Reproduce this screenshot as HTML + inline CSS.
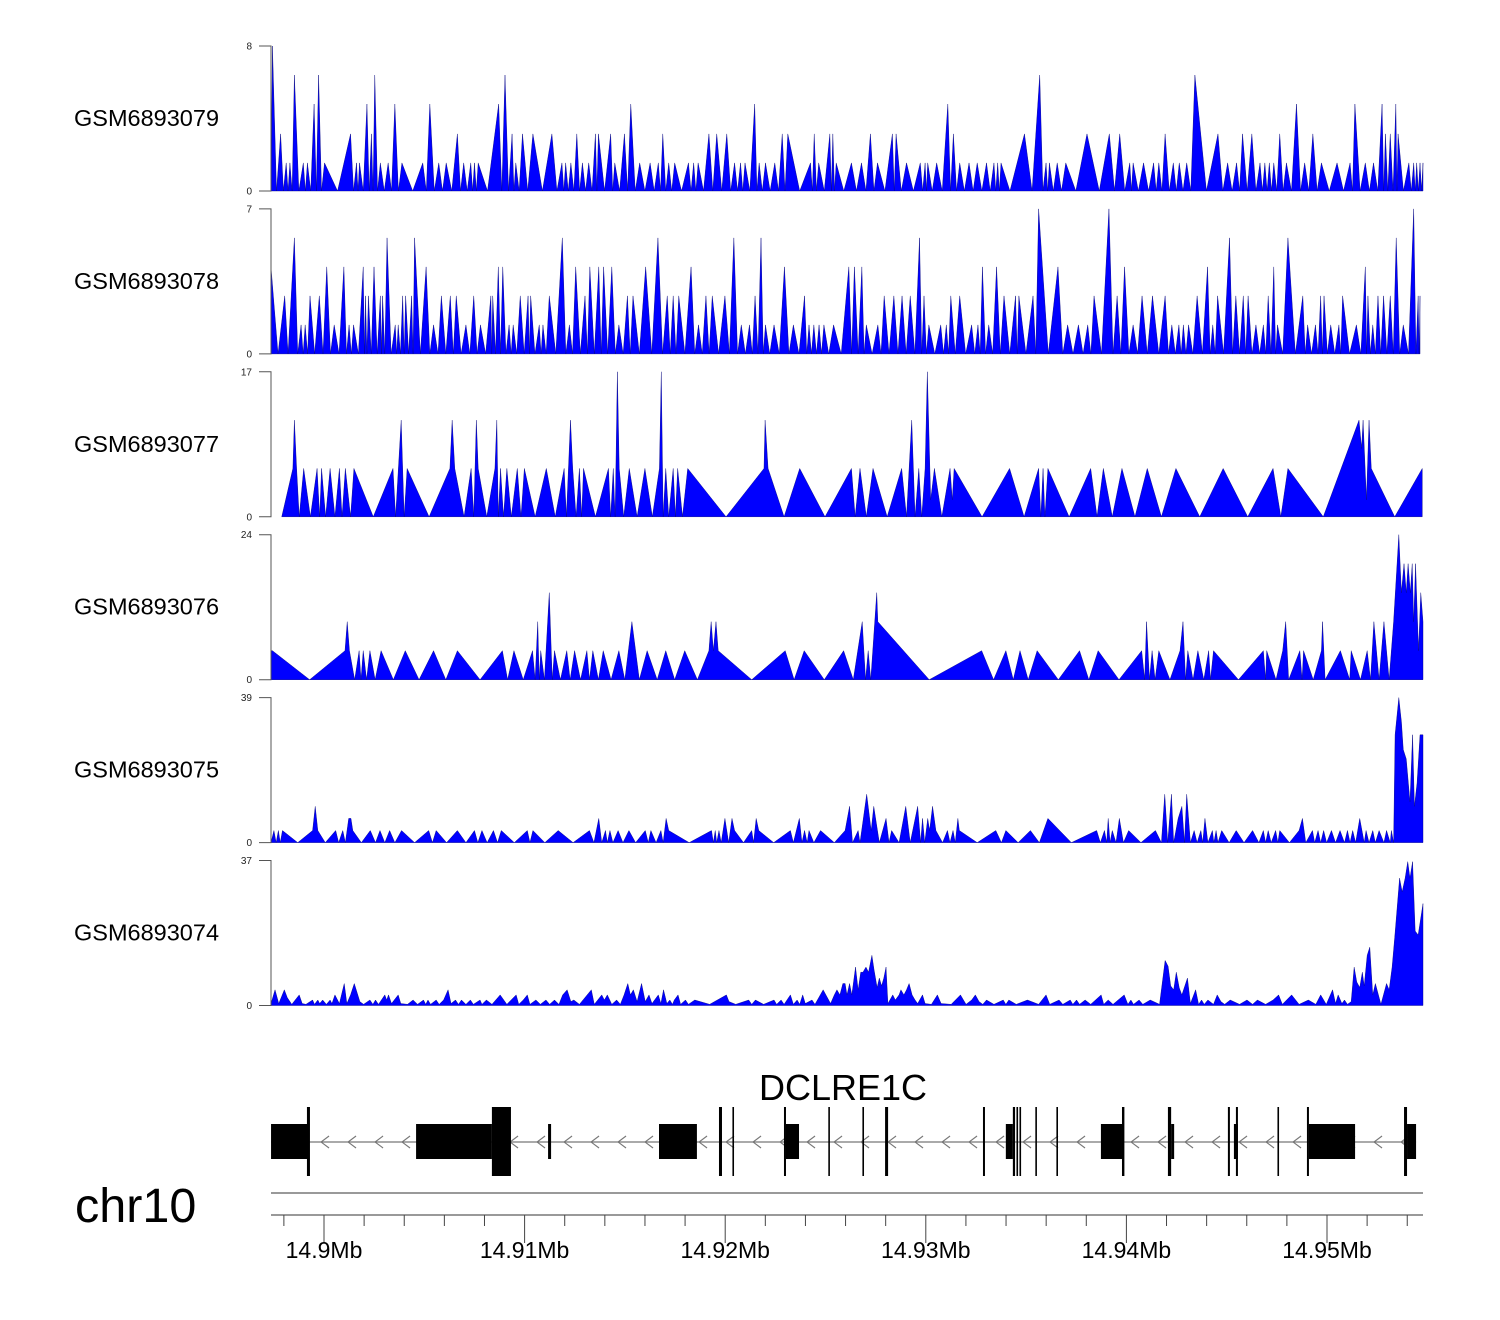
<!DOCTYPE html>
<html><head><meta charset="utf-8"><title>DCLRE1C coverage tracks</title>
<style>
html,body{margin:0;padding:0;background:#fff;}
svg{display:block;font-family:"Liberation Sans",Arial,sans-serif;}
</style></head>
<body>
<svg id="chart" xmlns="http://www.w3.org/2000/svg" width="1500" height="1320" viewBox="0 0 1500 1320"></svg>
<script>
// ---- data (positions are genomic bins: bp = binOrigin + bin*binSize) ----
const binOrigin = 14897058;
const binSize = 18.55;
const trackNames = ["GSM6893079","GSM6893078","GSM6893077","GSM6893076","GSM6893075","GSM6893074"];
const trackMax = [8,7,17,24,39,37];
const trackPeakMode = [true,true,false,false,false,false];

const t1 = [[16,0],[20,8],[42,3.15],[57,1.55],[67,1.55],[79,6.4],[103,1.55],[114,1.55],[132,4.8],[144,6.4],[160,1.55],[195,0],[230,3.15],[246,1.55],[254,1.55],[274,4.8],[286,3.15],[295,6.4],[310,1.55],[331,1.55],[349,4.8],[368,1.55],[397,0],[424,1.55],[443,4.8],[467,1.55],[487,1.55],[517,3.15],[534,1.55],[553,1.55],[563,1.55],[573,1.55],[598,0],[628,4.8],[645,6.4],[664,3.15],[674,1.55],[692,3.15],[720,3.15],[771,3.15],[798,1.55],[808,1.55],[822,1.55],[838,3.15],[853,1.55],[870,1.55],[888,3.15],[896,3.15],[929,3.15],[940,1.55],[966,3.15],[983,4.8],[1007,1.55],[1035,1.55],[1057,1.55],[1069,3.15],[1085,1.55],[1101,1.55],[1138,1.55],[1152,1.55],[1164,1.55],[1193,3.15],[1214,3.15],[1241,3.15],[1262,1.55],[1278,1.55],[1290,1.55],[1316,4.8],[1328,1.55],[1345,1.55],[1370,1.55],[1390,3.15],[1405,3.15],[1437,0],[1466,1.55],[1476,3.15],[1488,1.55],[1518,3.15],[1526,3.15],[1535,1.55],[1576,1.55],[1603,1.55],[1627,3.15],[1646,1.55],[1686,3.15],[1696,3.15],[1724,1.55],[1761,1.55],[1774,1.55],[1781,1.55],[1805,1.55],[1835,4.8],[1850,3.15],[1867,1.55],[1892,1.55],[1914,1.55],[1939,1.55],[1959,1.55],[1969,1.55],[1978,1.55],[2002,0],[2041,3.15],[2082,6.4],[2099,1.55],[2108,1.55],[2129,1.55],[2152,1.55],[2179,0],[2209,3.15],[2242,0],[2269,3.15],[2297,3.15],[2324,1.55],[2333,1.55],[2361,1.55],[2388,1.55],[2402,1.55],[2419,3.15],[2441,1.55],[2457,1.55],[2477,1.55],[2499,6.4],[2561,3.15],[2587,1.55],[2611,1.55],[2627,3.15],[2652,3.15],[2674,1.55],[2687,1.55],[2699,1.55],[2711,1.55],[2727,3.15],[2745,1.55],[2772,4.8],[2794,1.55],[2816,3.15],[2839,1.55],[2881,1.55],[2916,1.55],[2929,4.8],[2957,1.55],[2979,1.55],[3002,4.8],[3011,3.15],[3024,3.15],[3039,4.8],[3045,3.15],[3074,1.55],[3087,1.55],[3095,1.55],[3104,1.55],[3112,1.55]];

const t2 = [[16,4.2],[35,0],[53,2.8],[62,0],[79,5.6],[97,1.4],[108,1.4],[121,2.8],[146,2.8],[166,4.2],[186,1.4],[212,4.2],[226,1.4],[238,1.4],[264,4.2],[270,2.8],[278,2.8],[293,4.2],[310,2.8],[316,2.8],[328,5.6],[350,1.4],[358,1.4],[370,2.8],[378,2.8],[394,2.8],[402,5.6],[433,4.2],[453,1.4],[465,0],[474,2.8],[498,2.8],[514,2.8],[540,1.4],[561,2.8],[579,1.4],[607,2.8],[612,2.8],[627,4.2],[639,4.2],[656,1.4],[667,1.4],[686,2.8],[707,2.8],[714,2.8],[737,1.4],[747,1.4],[764,2.8],[799,5.6],[818,1.4],[835,4.2],[860,2.8],[873,4.2],[897,4.2],[910,4.2],[932,4.2],[951,1.4],[974,2.8],[989,2.8],[1023,4.2],[1056,5.6],[1081,2.8],[1097,2.8],[1112,2.8],[1145,4.2],[1165,1.4],[1185,2.8],[1202,2.8],[1236,2.8],[1260,5.6],[1280,1.4],[1302,1.4],[1317,2.8],[1333,5.6],[1345,1.4],[1368,1.4],[1396,4.2],[1420,1.4],[1450,2.8],[1462,1.4],[1475,1.4],[1489,1.4],[1502,1.4],[1528,1.4],[1569,4.2],[1584,4.2],[1604,4.2],[1616,1.4],[1647,1.4],[1664,2.8],[1690,2.8],[1712,2.8],[1734,2.8],[1759,5.6],[1771,2.8],[1784,1.4],[1816,1.4],[1831,1.4],[1843,2.8],[1867,2.8],[1899,1.4],[1916,1.4],[1928,4.2],[1945,1.4],[1966,4.2],[1986,2.8],[2017,2.8],[2026,2.8],[2064,2.8],[2079,7],[2131,4.2],[2157,1.4],[2186,1.4],[2211,1.4],[2228,2.8],[2268,7],[2290,2.8],[2310,4.2],[2333,1.4],[2357,2.8],[2385,2.8],[2419,2.8],[2437,1.4],[2456,1.4],[2468,1.4],[2482,1.4],[2505,2.8],[2533,4.2],[2547,1.4],[2560,2.8],[2592,5.6],[2609,2.8],[2629,2.8],[2642,2.8],[2663,1.4],[2683,1.4],[2696,2.8],[2711,4.2],[2721,1.4],[2749,5.6],[2789,2.8],[2802,1.4],[2823,1.4],[2837,2.8],[2846,2.8],[2864,1.4],[2886,1.4],[2896,2.8],[2933,1.4],[2957,4.2],[2964,2.8],[2977,1.4],[2991,2.8],[3006,2.8],[3024,2.8],[3040,5.6],[3059,1.4],[3087,7],[3099,2.8],[3104,2.8]];

const t3 = [[45,0],[75,5.67],[79,11.33],[85,5.67],[92,0],[104,5.67],[122,0],[140,5.67],[147,0],[152,5.67],[163,0],[175,5.67],[188,0],[200,5.67],[207,0],[216,5.67],[230,0],[239,5.67],[291,0],[344,5.67],[351,0],[366,11.33],[374,0],[382,5.67],[441,0],[497,5.67],[503,11.33],[510,5.67],[535,0],[554,5.67],[561,0],[568,11.33],[573,5.67],[596,0],[618,5.67],[623,11.33],[627,0],[633,5.67],[641,0],[650,5.67],[662,0],[678,5.67],[688,0],[697,5.67],[726,0],[756,5.67],[780,0],[804,5.67],[810,0],[821,11.33],[827,5.67],[836,0],[845,5.67],[851,0],[856,5.67],[888,0],[923,5.67],[929,0],[936,5.67],[941,0],[947,17],[952,5.67],[964,0],[979,5.67],[1000,0],[1021,5.67],[1041,0],[1060,5.67],[1065,17],[1070,0],[1077,5.67],[1085,0],[1097,5.67],[1103,0],[1109,5.67],[1122,0],[1136,5.67],[1239,0],[1341,5.67],[1344,11.33],[1352,5.67],[1395,0],[1437,5.67],[1505,0],[1576,5.67],[1586,0],[1599,5.67],[1616,0],[1634,5.67],[1672,0],[1711,5.67],[1724,0],[1738,11.33],[1747,0],[1757,5.67],[1765,0],[1774,5.67],[1780,17],[1789,2],[1799,5.67],[1819,0],[1841,5.67],[1847,2],[1852,5.67],[1927,0],[2001,5.67],[2040,0],[2079,5.67],[2085,0],[2091,5.67],[2096,0],[2104,5.67],[2161,0],[2219,5.67],[2236,0],[2253,5.67],[2277,0],[2303,5.67],[2338,0],[2371,5.67],[2409,0],[2448,5.67],[2512,0],[2575,5.67],[2641,0],[2709,5.67],[2730,0],[2749,5.67],[2844,0],[2940,11.33],[2947,8],[2951,11.33],[2960,2],[2967,11.33],[2973,5.67],[3036,0],[3110,5.67]];

const t4 = [[16,4.8],[20,4.8],[120,0],[215,4.8],[221,9.6],[227,4.8],[241,0],[253,4.8],[258,0],[264,4.8],[273,0],[282,4.8],[296,0],[312,4.8],[345,0],[377,4.8],[414,0],[453,4.8],[486,0],[517,4.8],[578,0],[638,4.8],[652,0],[669,4.8],[694,0],[719,4.8],[726,0],[733,9.6],[737,0],[741,4.8],[751,0],[764,14.4],[772,0],[778,4.8],[794,0],[811,4.8],[820,0],[832,4.8],[848,0],[865,4.8],[872,0],[881,4.8],[896,0],[909,4.8],[930,0],[951,4.8],[967,0],[986,9.6],[1006,0],[1027,4.8],[1054,0],[1077,4.8],[1101,0],[1128,4.8],[1162,0],[1193,4.8],[1199,9.6],[1205,4.8],[1212,9.6],[1218,4.8],[1308,0],[1398,4.8],[1422,0],[1449,4.8],[1503,0],[1555,4.8],[1581,0],[1605,9.6],[1614,0],[1621,4.8],[1628,0],[1644,14.4],[1647,9.6],[1785,0],[1926,4.8],[1958,0],[1991,4.8],[2011,0],[2029,4.8],[2051,0],[2075,4.8],[2132,0],[2189,4.8],[2214,0],[2239,4.8],[2295,0],[2356,4.8],[2364,0],[2369,9.6],[2377,0],[2384,4.8],[2392,0],[2402,4.8],[2432,0],[2459,4.8],[2467,9.6],[2474,0],[2480,4.8],[2494,0],[2507,4.8],[2523,0],[2536,4.8],[2541,0],[2549,4.8],[2616,0],[2683,4.8],[2689,0],[2692,4.8],[2717,0],[2735,4.8],[2743,9.6],[2751,0],[2781,4.8],[2787,0],[2791,4.8],[2817,0],[2839,4.8],[2842,9.6],[2849,0],[2890,4.8],[2915,0],[2919,4.8],[2944,0],[2962,4.8],[2971,0],[2980,9.6],[2994,0],[3007,9.6],[3021,0],[3033,9.6],[3047,24],[3054,14.4],[3061,19.2],[3067,14.4],[3072,19.2],[3078,14.4],[3083,19.2],[3087,9.6],[3092,19.2],[3100,4.8],[3106,14.4],[3112,9.6]];

const t5 = [[16,0],[24,3.25],[30,0],[36,3.25],[41,0],[47,3.25],[88,0],[128,3.25],[135,9.75],[142,3.25],[162,0],[190,3.25],[198,0],[209,3.25],[216,0],[225,6.5],[231,6.5],[236,3.25],[259,0],[283,3.25],[297,0],[309,3.25],[322,0],[335,3.25],[349,0],[367,3.25],[402,0],[440,3.25],[450,0],[460,3.25],[488,0],[517,3.25],[540,0],[563,3.25],[572,0],[583,3.25],[597,0],[614,3.25],[625,0],[635,3.25],[670,0],[705,3.25],[712,0],[720,3.25],[752,0],[788,3.25],[828,0],[872,3.25],[884,0],[897,6.5],[905,0],[915,3.25],[920,0],[927,3.25],[935,0],[949,3.25],[962,0],[978,3.25],[996,0],[1022,3.25],[1030,0],[1037,3.25],[1051,0],[1064,3.25],[1070,0],[1078,6.5],[1085,3.25],[1140,0],[1200,3.25],[1205,0],[1210,3.25],[1214,0],[1220,3.25],[1226,0],[1236,6.5],[1246,0],[1255,6.5],[1262,3.25],[1286,0],[1308,3.25],[1313,0],[1320,6.5],[1327,3.25],[1367,0],[1412,3.25],[1420,0],[1436,6.5],[1443,0],[1450,3.25],[1457,0],[1462,3.25],[1475,0],[1493,3.25],[1530,0],[1559,3.25],[1571,9.75],[1579,0],[1594,3.25],[1599,0],[1617,13],[1629,3.25],[1636,9.75],[1651,0],[1669,6.5],[1677,0],[1684,3.25],[1704,0],[1722,9.75],[1734,0],[1754,9.75],[1762,0],[1767,6.5],[1773,0],[1781,6.5],[1786,3.25],[1794,9.75],[1803,3.25],[1821,0],[1834,3.25],[1841,0],[1849,3.25],[1855,0],[1862,6.5],[1866,3.25],[1914,0],[1964,3.25],[1979,0],[1991,3.25],[2024,0],[2057,3.25],[2081,0],[2104,6.5],[2167,0],[2235,3.25],[2245,0],[2256,3.25],[2262,0],[2266,6.5],[2271,0],[2277,3.25],[2287,0],[2296,6.5],[2307,0],[2321,3.25],[2354,0],[2393,3.25],[2409,0],[2418,13],[2426,0],[2436,13],[2442,0],[2454,6.5],[2464,9.75],[2471,0],[2477,13],[2487,0],[2497,3.25],[2505,0],[2515,3.25],[2520,0],[2526,6.5],[2534,0],[2546,3.25],[2550,0],[2556,3.25],[2561,0],[2571,3.25],[2591,0],[2610,3.25],[2631,0],[2654,3.25],[2671,0],[2683,3.25],[2689,0],[2696,3.25],[2704,0],[2716,3.25],[2722,0],[2727,3.25],[2753,0],[2779,3.25],[2788,6.5],[2797,0],[2815,3.25],[2821,0],[2830,3.25],[2837,0],[2845,3.25],[2853,0],[2866,3.25],[2877,0],[2889,3.25],[2901,0],[2909,3.25],[2916,0],[2923,3.25],[2931,0],[2942,6.5],[2954,0],[2959,3.25],[2967,0],[2977,3.25],[2984,0],[2994,3.25],[3007,0],[3014,3.25],[3024,0],[3027,3.25],[3033,0],[3037,29],[3047,39],[3054,32.5],[3059,25],[3067,22.5],[3077,11],[3084,29],[3089,9.75],[3096,16],[3104,29],[3112,29]];

const t6 = [[16,0.5],[27,4],[37,0.5],[52,4],[60,2],[72,0.3],[92,2.7],[100,0.5],[110,0.3],[128,1.4],[133,0.3],[142,1.4],[147,0.5],[155,1.4],[165,0.3],[175,1.4],[180,0.5],[188,2.7],[200,0.5],[213,5.6],[220,0.5],[230,2.7],[240,5.6],[255,1],[265,0.3],[282,1.4],[290,0.3],[297,1.4],[305,0.3],[322,2.7],[327,1.4],[332,2.7],[340,0.5],[358,2.7],[365,0.5],[383,0.3],[398,1.4],[410,0.3],[426,1.4],[432,0.3],[438,1.4],[445,0.3],[460,1.4],[468,0.3],[480,1.4],[492,4],[500,0.5],[512,1.4],[520,0.3],[528,1.4],[540,0.3],[552,1.4],[560,0.3],[578,1.4],[583,0.3],[595,1.4],[610,0.3],[632,2.7],[650,0.3],[675,2.7],[682,0.3],[694,1.4],[705,2.7],[712,0.3],[728,1.4],[740,0.3],[755,1.4],[765,0.3],[778,1.4],[790,0.3],[800,2.7],[812,4],[822,1],[830,1.4],[845,0.3],[877,4],[885,0.3],[905,2.7],[912,1.4],[920,2.7],[932,0.3],[945,1.4],[955,0.3],[965,2.7],[975,5.6],[982,2.7],[990,4],[1000,1],[1012,5.6],[1022,1],[1032,2.7],[1040,0.5],[1057,2.7],[1064,0.5],[1071,4],[1080,0.5],[1088,1.4],[1095,0.3],[1100,1.4],[1110,2.7],[1117,0.3],[1130,1.4],[1138,0.3],[1155,1.4],[1195,0.3],[1240,2.7],[1247,1],[1265,0.3],[1300,1.4],[1308,0.3],[1318,1.4],[1340,0.3],[1368,1.4],[1375,0.3],[1387,1.4],[1395,0.3],[1412,2.7],[1420,0.3],[1430,1.4],[1437,0.3],[1445,2.7],[1452,0.5],[1470,1.4],[1478,0.3],[1500,4],[1520,0.5],[1530,2.7],[1537,4],[1545,2.7],[1553,5.6],[1559,5.6],[1564,2.7],[1571,5.6],[1577,2.7],[1587,9.8],[1594,4],[1601,8.5],[1607,8.5],[1615,9.8],[1622,8.5],[1631,12.8],[1637,9],[1645,4.6],[1651,7],[1657,5],[1663,7],[1669,9.8],[1674,0.5],[1687,2.7],[1694,1.4],[1704,2.7],[1709,4],[1717,2.7],[1724,4],[1731,5.6],[1739,2.7],[1747,1.4],[1754,0.5],[1767,2.7],[1774,0.5],[1791,0.3],[1807,2.7],[1817,0.5],[1844,0.3],[1869,2.7],[1884,0.3],[1899,1.4],[1909,2.7],[1919,1],[1929,0.3],[1939,1.4],[1959,0.3],[1984,1.4],[1991,0.3],[1999,1.4],[2019,0.3],[2049,1.4],[2079,0.3],[2099,2.7],[2109,0.3],[2134,1.4],[2144,0.3],[2164,1.4],[2171,0.3],[2181,1.4],[2189,0.3],[2204,1.4],[2219,0.3],[2247,2.7],[2254,0.3],[2266,1.4],[2279,0.3],[2309,2.7],[2319,0.3],[2327,1.4],[2334,0.3],[2349,1.4],[2359,0.3],[2379,1.4],[2404,0.3],[2419,11.5],[2427,10],[2434,5],[2442,4],[2449,8.5],[2457,4.5],[2464,2.7],[2479,7],[2487,0.5],[2501,4],[2509,0.3],[2517,1.4],[2524,0.3],[2534,1.4],[2549,0.3],[2559,2.7],[2569,1],[2579,0.3],[2594,1.4],[2619,0.3],[2639,1.4],[2654,0.3],[2667,1.4],[2689,0.3],[2709,1.4],[2724,2.7],[2734,0.3],[2759,2.7],[2779,0.3],[2804,1.4],[2824,0.3],[2837,2.7],[2852,0.3],[2869,4],[2877,0.5],[2884,2.7],[2894,0.5],[2901,1.4],[2909,0.3],[2919,1],[2927,9.8],[2934,6],[2942,4.6],[2949,8.5],[2954,5],[2962,12.8],[2969,14.9],[2977,2.7],[2984,5.6],[2999,0.3],[3014,5.6],[3021,4],[3029,9.8],[3036,17.4],[3049,32.5],[3056,29],[3064,32.5],[3071,36.7],[3077,32.5],[3084,36.7],[3091,19],[3099,18],[3112,26]];

const trackData = [t1,t2,t3,t4,t5,t6];

// gene model (kb offsets from 14.9 Mb): [start, end]
const exonsShort = [[-2.64,-0.80],[4.59,8.37],[11.17,11.32],[16.70,18.59],[23.03,23.68],[33.99,34.34],[38.73,39.78],[42.23,42.38],[45.36,45.56],[49.10,51.40],[53.99,54.44]];
const exonsTall = [[-0.85,-0.70],[8.37,9.32],[19.69,19.84],[20.36,20.44],[22.93,23.03],[25.14,25.22],[26.84,26.92],[27.97,28.12],[32.85,32.95],[34.34,34.45],[34.52,34.60],[34.67,34.75],[35.46,35.54],[36.51,36.59],[39.78,39.90],[42.07,42.23],[45.06,45.16],[45.46,45.56],[47.53,47.61],[49.00,49.10],[53.84,53.99]];
const geneSpan = [-2.64, 54.44];
const geneName = "DCLRE1C";

const axisTicks = [-2,0,2,4,6,8,10,12,14,16,18,20,22,24,26,28,30,32,34,36,38,40,42,44,46,48,50,52,54];
const axisLabels = ["14.9Mb","14.91Mb","14.92Mb","14.93Mb","14.94Mb","14.95Mb"];
const axisLabelKb = [0,10,20,30,40,50];

// ---- drawing ----
const NS = "http://www.w3.org/2000/svg";
const svg = document.getElementById('chart');
const X0 = 271, X1 = 1423;
function xKb(kb){ return 324 + kb*20.06; }
function xBin(b){ return xKb((binOrigin + b*binSize - 14900000)/1000); }
function mk(tag, attrs, parent){
  const e = document.createElementNS(NS, tag);
  for (const k in attrs) e.setAttribute(k, attrs[k]);
  (parent||svg).appendChild(e);
  return e;
}

const trackTop0 = 46, trackStep = 162.9, trackH = 145;
trackData.forEach((pts, i) => {
  const top = trackTop0 + i*trackStep, base = top + trackH;
  const g = mk('g', {});
  
  
  const yOf = v => base - v/trackMax[i]*trackH;
  let seq = [];
  pts.forEach((p, j) => {
    if (trackPeakMode[i] && j > 0) {
      const q = pts[j-1];
      if (q[1] > 0 && p[1] > 0) seq.push([(q[0]+p[0])/2, 0]);
    }
    seq.push(p);
  });
  let d = 'M' + Math.max(X0, xBin(seq[0][0])).toFixed(2) + ',' + base;
  seq.forEach(p => { d += ' L' + Math.min(X1, Math.max(X0, xBin(p[0]))).toFixed(2) + ',' + yOf(p[1]).toFixed(2); });
  d += ' L' + Math.min(X1, xBin(seq[seq.length-1][0])).toFixed(2) + ',' + base + ' Z';
  const area = mk('path', {d: d, fill: '#0000ff', stroke: '#00007a', 'stroke-width': '0.4', 'stroke-linejoin': 'miter'}, g);
  
  
  const ax = mk('path', {d: `M259,${top} H271 V${base} H259`, fill: 'none', stroke: '#555', 'stroke-width': '1'}, g);
  
  
  const tmax = mk('text', {x: 252, y: top + 3.5, 'font-size': 10, 'text-anchor': 'end', fill: '#222'}, g);
  tmax.textContent = trackMax[i];
  
  
  const tmin = mk('text', {x: 252, y: base + 3.5, 'font-size': 10, 'text-anchor': 'end', fill: '#222'}, g);
  tmin.textContent = '0';
  
  
  const lab = mk('text', {x: 74, y: top + trackH/2 + 7.5, 'font-size': 23.5, fill: '#000'}, g);
  lab.textContent = trackNames[i];
  
  
});

// gene track
const gg = mk('g', {});


const gy = 1142;
const intron = mk('line', {x1: xKb(geneSpan[0]), x2: xKb(geneSpan[1]), y1: gy, y2: gy, stroke: '#777', 'stroke-width': 1.3}, gg);


for (let x = xKb(geneSpan[0]) + 50; x < xKb(geneSpan[1]) - 4; x += 27) {
  const ch = mk('path', {d: `M${x+8},${gy-6} L${x},${gy} L${x+8},${gy+6}`, fill: 'none', stroke: '#777', 'stroke-width': 1.1}, gg);
  
  
}
exonsShort.forEach(e => {
  const r = mk('rect', {x: xKb(e[0]), y: 1124, width: Math.max(1.5, xKb(e[1]) - xKb(e[0])), height: 35, fill: '#000'}, gg);
  
  
});
exonsTall.forEach(e => {
  const r = mk('rect', {x: xKb(e[0]), y: 1107, width: Math.max(1.5, xKb(e[1]) - xKb(e[0])), height: 69, fill: '#000'}, gg);
  
  
});
const gname = mk('text', {x: 843, y: 1100, 'font-size': 36, 'text-anchor': 'middle', fill: '#000'}, gg);
gname.textContent = geneName;



// genome axis
const ag = mk('g', {});


const sep = mk('line', {x1: X0, x2: X1, y1: 1193, y2: 1193, stroke: '#333', 'stroke-width': 1}, ag);


const axl = mk('line', {x1: X0, x2: X1, y1: 1215, y2: 1215, stroke: '#333', 'stroke-width': 1}, ag);


axisTicks.forEach(t => {
  const major = axisLabelKb.indexOf(t) >= 0;
  const tk = mk('line', {x1: xKb(t), x2: xKb(t), y1: 1215, y2: major ? 1243 : 1226, stroke: '#444', 'stroke-width': 1}, ag);
  
  
});
axisLabels.forEach((s, k) => {
  const t = mk('text', {x: xKb(axisLabelKb[k]), y: 1258, 'font-size': 23, 'text-anchor': 'middle', fill: '#000'}, ag);
  t.textContent = s;
  
  
});
const chr = mk('text', {x: 75, y: 1222, 'font-size': 48.5, fill: '#000'}, ag);
chr.textContent = 'chr10';


</script>
</body></html>
